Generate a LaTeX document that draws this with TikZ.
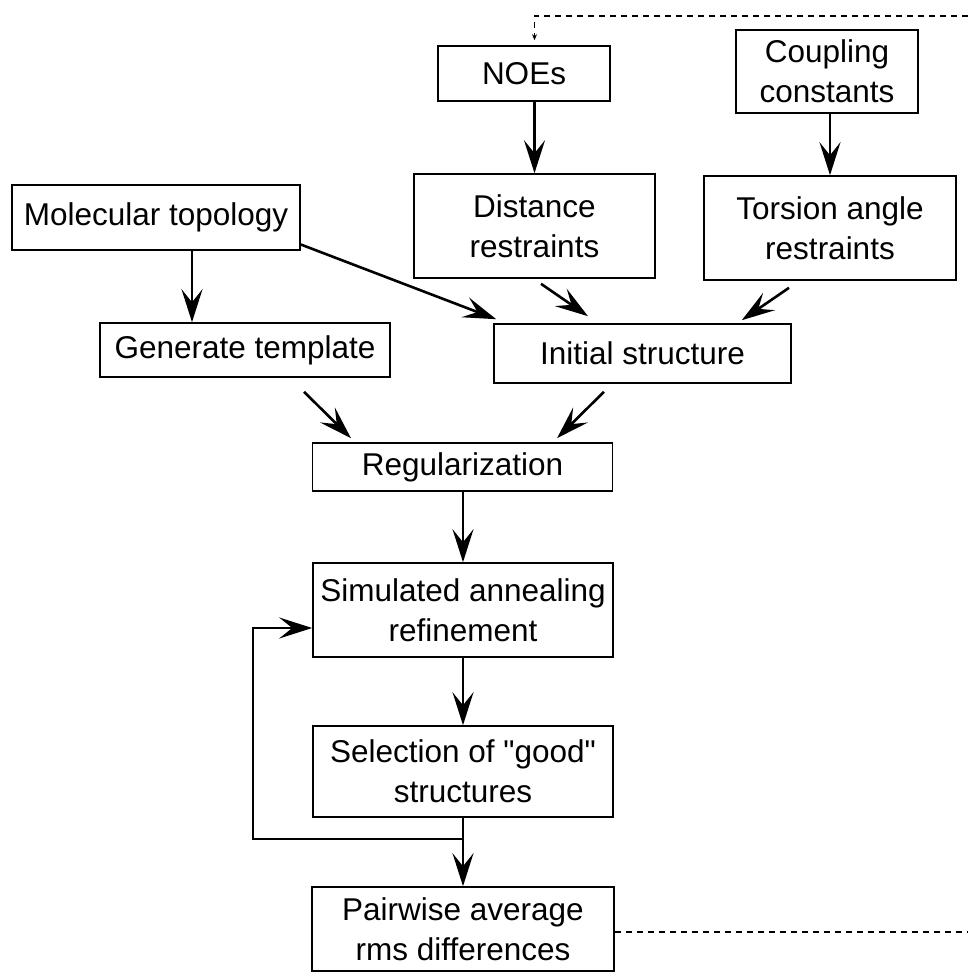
\documentclass[tikz,border=0pt]{standalone}
\usepackage{fontspec}
\setmainfont{Liberation Sans}
\newfontfamily\qfont{Liberation Sans}
\usetikzlibrary{arrows.meta,calc}
\begin{document}
\begin{tikzpicture}[x=1pt,y=-1pt,
  box/.style={draw, line width=1.6pt, inner sep=0pt, align=center,
    font=\fontsize{31.5}{40}\selectfont},
  arr/.style={line width=2.6pt, -{Stealth[length=33pt,width=21pt,inset=13pt]}},
  loopline/.style={line width=2.2pt, -{Stealth[length=33pt,width=21pt,inset=13pt]}},
  dline/.style={line width=1.3pt, dash pattern=on 6pt off 5pt}
]
\useasboundingbox (0,0) rectangle (968,974);
\fill[white] (0,0) rectangle (968,974);
% nodes
\node[box, minimum width=172pt, minimum height=55pt] (noe) at (524,73.5) {NOEs};
\node[box, minimum width=182pt, minimum height=83pt] (coup) at (827,71.5) {Coupling\\constants};
\node[box, minimum width=241pt, minimum height=104pt] (dist) at (534.5,226) {Distance\\restraints};
\node[box, minimum width=252pt, minimum height=104pt] (tors) at (830,228) {Torsion angle\\restraints};
\node[box, minimum width=288pt, minimum height=65pt] (mol) at (156,217.5) {Molecular topology};
\node[box, minimum width=290pt, minimum height=54pt] (gen) at (245,350) {Generate template};
\node[box, minimum width=297pt, minimum height=59pt] (init) at (642.5,353.5) {Initial structure};
\node[box, minimum width=300pt, minimum height=48pt] (reg) at (462.5,467) {Regularization};
\node[box, minimum width=300pt, minimum height=94pt] (sim) at (463,610) {Simulated annealing\\refinement};
\node[box, minimum width=300pt, minimum height=91pt] (sel) at (463,771.5) {Selection of {\qfont"}good{\qfont"}\\structures};
\node[box, minimum width=302pt, minimum height=84pt] (pair) at (463,929) {Pairwise average\\rms differences};
% arrows
\draw[arr] (noe.south -| dist.north) -- (dist.north);
\draw[arr] (coup.south -| tors.north) -- (tors.north);
\draw[arr] ([xshift=36pt]mol.south) -- ([xshift=36pt]mol.south |- gen.north);
\draw[arr] ([yshift=-27pt]mol.east) -- ([xshift=3pt,yshift=4pt]init.north west);
\draw[arr] ([xshift=6.5pt,yshift=-5pt]dist.south) -- ([xshift=-54.5pt,yshift=7pt]init.north);
\draw[arr] ([xshift=-41pt,yshift=-7pt]tors.south) -- ([xshift=-50pt,yshift=3pt]init.north east);
\draw[arr] ([xshift=59pt,yshift=-14pt]gen.south) -- ([xshift=-111.5pt,yshift=4pt]reg.north);
\draw[arr] ([xshift=-38.5pt,yshift=-8pt]init.south) -- ([xshift=94.5pt,yshift=4pt]reg.north);
\draw[arr] (reg.south -| sim.north) -- (sim.north);
\draw[arr] (sim.south) -- (sel.north);
\draw[arr] (sel.south) -- (pair.north);
% feedback loop
\coordinate (lp) at (463,839);
\coordinate (lc) at (253,628);
\draw[loopline] (lp) -| (lc) -- (lc -| sim.west);
% dashed feedback
\coordinate (dR) at (968,932);
\coordinate (dT) at (968,16);
\draw[dline] (pair.east |- dR) -- (dR);
\draw[dline, -{Stealth[length=6pt,width=5pt]}] (dT) -- (dT -| dist.north) -- ([yshift=5pt]noe.north -| dist.north);
\end{tikzpicture}
\end{document}
